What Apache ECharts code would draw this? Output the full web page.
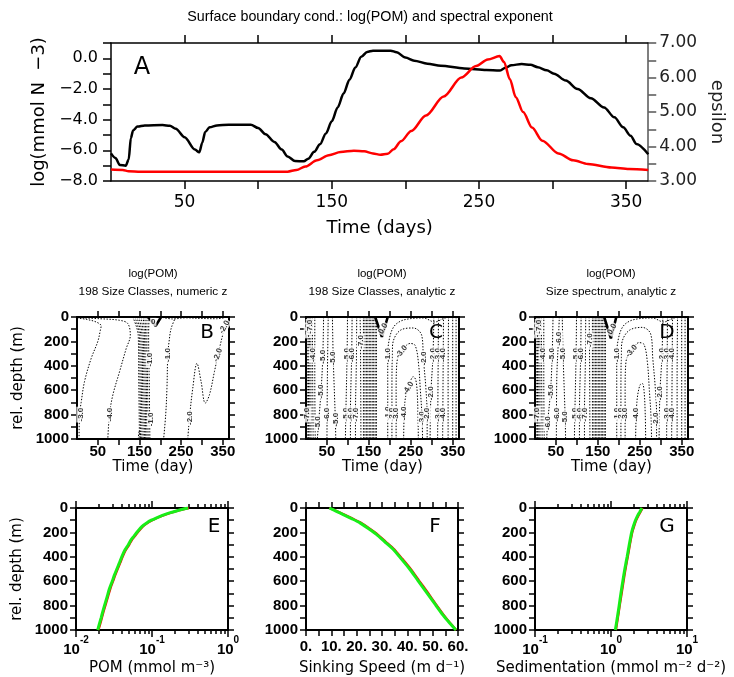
<!DOCTYPE html>
<html><head><meta charset="utf-8">
<script src="https://cdn.jsdelivr.net/npm/echarts@6/dist/echarts.min.js"></script>
<style>html,body{margin:0;padding:0;background:#fff}#c{width:734px;height:677px}</style>
</head><body><div id="c"></div>
<script>
// ---------- Panel A: surface boundary conditions ----------
const blackDays = [0,3,6,10,12,13.5,15,18,23,35,40,44,50,57,60,62,64,67,72,80,95,100,105,111,116,120,125,131,134,138,142,146,150,154,158,162,166,170,174,178,190,194,200,206,215,224,240,255,264,268,272,279,285,290,296,301,309,317,326,335,342,348,353,357,365];
const blackLogPOM = [-6.2,-6.5,-6.95,-7.0,-6.6,-5.2,-4.7,-4.45,-4.38,-4.35,-4.4,-4.6,-5.15,-5.95,-6.13,-5.5,-4.8,-4.5,-4.38,-4.33,-4.33,-4.55,-4.95,-5.45,-5.95,-6.4,-6.7,-6.72,-6.55,-6.1,-5.6,-4.9,-4.1,-3.2,-2.3,-1.4,-0.6,0.1,0.42,0.5,0.5,0.4,0.05,-0.15,-0.35,-0.48,-0.66,-0.76,-0.8,-0.62,-0.45,-0.37,-0.42,-0.58,-0.78,-1.0,-1.45,-2.0,-2.6,-3.2,-3.85,-4.5,-5.05,-5.58,-6.25];
const redDays = [0,8,12,20,120,126,132,140,148,156,165,172,178,183,188,192,197,204,214,226,238,248,256,264,267,271,275,280,286,293,304,314,324,340,352,365];
const redEpsilon = [3.33,3.32,3.28,3.27,3.27,3.32,3.42,3.6,3.75,3.84,3.88,3.86,3.8,3.76,3.79,3.92,4.15,4.45,4.9,5.45,6.0,6.33,6.52,6.62,6.45,5.95,5.43,5.0,4.55,4.17,3.8,3.6,3.49,3.39,3.35,3.32];
const timeTicks = [50,100,150,200,250,300,350];
const timeLabels = [50,150,250,350];
const logPomTicks = [-8,-7,-6,-5,-4,-3,-2,-1,0,1];
const logPomLabels = [-8,-6,-4,-2,0];
const epsTicks = [3,3.5,4,4.5,5,5.5,6,6.5,7];
const epsLabels = [3,4,5,6,7];
const depthTicks = [0,100,200,300,400,500,600,700,800,900,1000];
const depthLabels = [0,200,400,600,800,1000];

// ---------- Panel B: 198 size classes, numeric z ----------
const bLines = [
  [[0,8],[22,19],[46,41],[58,73],[56,110],[50,200],[34,340],[18,530],[10,700],[6,800],[5,1000]],
  [[6,6],[54,14],[102,27],[122,54],[128,150],[118,260],[102,450],[86,640],[78,800],[74,1000]],
  [[147,1000],[150,930],[154,1000]],
  [[237,0],[226,95],[221,204],[218,312],[216,584],[213,800],[208,1000]],
  [[205,3],[230,16],[260,7],[300,12],[335,14],[352,8]],
  [[266,1000],[270,829],[278,584],[288,380],[298,530],[308,706],[318,638],[330,448],[342,258],[354,95],[360,40],[365,20]]
];
const bBandTop = [134,139,144,149,154,159,163,168,173];
const bBandMid = [147,150,153,156,159,162,165,168,172];
const bBandBot = [150,153,156,159,162,165,168,171,175];
const bV = [[170,0],[189,73],[202,0]];
const bLabels = [[8,800,'-3.0',90],[78,800,'-4.0',90],[175,350,'-1.0',90],[178,840,'-1.0',90],[218,312,'-1.0',90],
  [270,829,'-2.0',90],[338,312,'-2.0',70],[354,82,'-2.0',60],[183,40,'0',0]];

// ---------- Panel C: 198 size classes, analytic z ----------
const cLines = [
  [[2,0],[3,500],[3,1000]],[[5,0],[6,500],[6,1000]],[[8,0],[9,500],[9,1000]],[[11,0],[12,500],[12,1000]],
  [[15,0],[16,500],[17,1000]],[[21,0],[21,500],[22,1000]],
  [[42,0],[40,330],[36,600],[30,870],[27,1000]],
  [[53,0],[51,500],[50,1000]],
  [[63,0],[65,340],[70,842],[71,1000]],
  [[99,0],[98,312],[95,800],[94,1000]],
  [[110,0],[109,312],[106,800],[106,1000]],
  [[121,0],[120,400],[118,800],[118,1000]],
  [[129,0],[130,204],[131,1000]],
  [[195,1000],[195,600],[195,312],[199,177],[209,82],[225,35],[248,14],[280,8],[307,41],[327,14],[339,0]],
  [[205,1000],[205,600],[206,280],[208,200],[225,109],[256,90],[276,150],[280,340],[286,584],[289,800],[289,1000]],
  [[215,1000],[215,600],[217,367],[228,285],[248,217],[260,231],[268,367],[273,611],[277,829],[278,1000]],
  [[233,1000],[236,693],[244,584],[256,489],[262,516],[266,666],[268,1000]],
  [[305,0],[303,312],[298,625],[296,1000]],
  [[316,0],[315,500],[314,1000]],[[328,0],[327,500],[326,1000]],
  [[340,0],[339,500],[339,1000]],[[350,0],[350,1000]],[[358,0],[358,1000]]
];
const cBandDays = [137,140.5,144,147.5,151,154.5,158,161.5,165,168];
const cV = [[165,0],[181,163],[195,0]];
const cLabels = [[4,110,'-7.0',90],[9,80,'-7.0',90],[16,312,'-4.0',90],[40,326,'-5.0',90],[36,611,'-5.0',90],[50,800,'-6.0',90],
  [3,800,'-7.0',90],[29,870,'-5.0',90],[65,340,'-5.0',90],[70,842,'-5.0',90],[98,312,'-5.0',90],[109,312,'-6.0',90],
  [95,800,'-5.0',90],[106,800,'-6.0',90],[118,800,'-7.0',90],[130,204,'-7.0',90],[184,95,'0.0',60],[195,312,'-1.0',90],
  [195,790,'-1.0',90],[205,800,'-2.0',90],[215,800,'-3.0',90],[234,790,'-4.0',90],[228,285,'-3.0',50],[280,340,'-2.0',90],
  [244,584,'-4.0',60],[303,312,'-2.0',90],[298,625,'-2.0',90],[315,312,'-3.0',90],[327,312,'-4.0',90],[277,829,'-3.0',90],
  [289,800,'-2.0',90],[315,800,'-3.0',90],[327,800,'-4.0',90]];

// ---------- Panel D: size spectrum, analytic z ----------
const dLines = [
  [[2,0],[3,500],[3,1000]],[[5,0],[6,500],[6,1000]],[[8,0],[9,500],[9,1000]],[[11,0],[12,500],[12,1000]],
  [[15,0],[16,500],[17,1000]],[[21,0],[21,500],[22,1000]],
  [[43,0],[41,312],[37,611],[30,870],[28,1000]],
  [[58,0],[56,177],[52,500],[51,1000]],
  [[65,0],[67,312],[72,829],[73,1000]],
  [[99,0],[98,312],[95,800],[94,1000]],
  [[110,0],[109,312],[106,800],[106,1000]],
  [[121,0],[120,400],[118,800],[118,1000]],
  [[129,0],[130,204],[131,1000]],
  [[195,1000],[195,600],[195,312],[199,177],[209,82],[225,35],[248,14],[280,8],[307,41],[327,14],[339,0]],
  [[205,1000],[205,600],[206,280],[208,200],[225,109],[256,85],[276,140],[281,340],[287,584],[290,800],[290,1000]],
  [[215,1000],[215,600],[217,367],[230,280],[248,210],[260,225],[268,367],[273,611],[277,829],[278,1000]],
  [[240,1000],[243,700],[250,560],[256,545],[260,600],[263,800],[264,1000]],
  [[305,0],[303,312],[298,625],[296,1000]],
  [[316,0],[315,500],[314,1000]],[[328,0],[327,500],[326,1000]],
  [[340,0],[339,500],[339,1000]],[[350,0],[350,1000]],[[358,0],[358,1000]]
];
const dBandDays = [137,140.5,144,147.5,151,154.5,158,161.5,165,168];
const dV = [[165,0],[181,175],[194,0]];
const dLabels = [[4,110,'-7.0',90],[9,80,'-7.0',90],[18,312,'-4.0',90],[41,312,'-5.0',90],[37,611,'-5.0',90],[52,800,'-6.0',90],
  [4,800,'-7.0',90],[30,870,'-6.0',90],[57,177,'-6.0',90],[67,312,'-5.0',90],[72,829,'-5.0',90],[98,312,'-5.0',90],
  [109,312,'-6.0',90],[95,800,'-5.0',90],[106,800,'-6.0',90],[118,800,'-7.0',90],[130,190,'-7.0',90],[184,100,'0.0',60],
  [195,312,'-1.0',90],[195,800,'-1.0',90],[205,800,'-2.0',90],[215,800,'-3.0',90],[241,800,'-4.0',90],[230,280,'-3.0',50],
  [303,312,'-2.0',90],[298,625,'-2.0',90],[315,312,'-3.0',90],[327,312,'-4.0',90],[288,840,'-2.0',90],
  [315,800,'-3.0',90],[327,800,'-4.0',90]];

// ---------- Panels E, F, G: depth profiles ----------
const profDepthE = [0,20,40,60,80,100,120,150,190,230,260,300,350,400,450,500,550,600,660,730,800,850,900,950,1000];
const pomGreen = [0.30,0.22,0.17,0.137,0.115,0.098,0.086,0.074,0.065,0.058,0.053,0.049,0.0435,0.040,0.0372,0.0345,0.032,0.030,0.0276,0.0256,0.0237,0.0225,0.0214,0.0203,0.0193];
const pomRed = [0.305,0.226,0.175,0.141,0.118,0.101,0.088,0.076,0.0667,0.0595,0.0544,0.0502,0.0446,0.041,0.0381,0.0353,0.0328,0.0307,0.0283,0.0262,0.0243,0.023,0.0219,0.0208,0.0197];
const profDepthF = [0,27,54,87,122,167,216,275,338,417,500,595,689,784,878,940,1000];
const speedGreen = [9.2,12,14.7,18,21.3,24.5,27.8,31,34.4,37.6,40.9,44.2,47.5,50.8,54.1,56.6,59.2];
const speedRed = [9.2,12.3,15.1,18.4,21.7,24.9,28.2,31.4,34.8,38.0,41.3,44.6,47.9,51.1,54.4,56.8,59.3];
const profDepthG = [0,30,60,100,150,200,300,400,500,600,700,800,900,1000];
const sedGreen = [2.55,2.4,2.25,2.1,1.97,1.87,1.74,1.63,1.52,1.43,1.35,1.28,1.21,1.14];
const sedRed = [2.6,2.45,2.3,2.14,2.01,1.9,1.77,1.66,1.55,1.46,1.38,1.3,1.23,1.16];
const pomMajor = [0.01,0.1,1];
const pomMinor = [0.02,0.03,0.04,0.05,0.06,0.07,0.08,0.09,0.2,0.3,0.4,0.5,0.6,0.7,0.8,0.9];
const speedTicks = [0,5,10,15,20,25,30,35,40,45,50,55,60];
const speedLabels = [0,10,20,30,40,50,60];
const sedMajor = [0.1,1,10];
const sedMinor = [0.2,0.3,0.4,0.5,0.6,0.7,0.8,0.9,2,3,4,5,6,7,8,9];

// ---------- build ----------
const BOLD = {fontFamily:'Liberation Sans', fontWeight:'bold', fontSize:15, color:'#000'};
const THIN = {fontFamily:'DejaVu Sans', fontSize:16, color:'#000'};
const NAME = {fontFamily:'DejaVu Sans', fontSize:15, color:'#000'};
const zip = (a,b) => a.map((v,i)=>[v,b[i]]);

function ax(o){
  const col = o.color || '#000';
  const c = {gridIndex:o.g, type:o.type||'value', position:o.pos, min:o.min, max:o.max, inverse:!!o.inverse,
    splitLine:{show:false},
    axisLine:{show:!o.noLine, onZero:false, lineStyle:{color:col, width:o.lw||2}},
    axisTick:{show:true, inside:false, length:o.tickLen||6, lineStyle:{color:col, width:o.tw||1.5}},
    axisLabel:{show:!!o.labels}};
  if (o.type==='log') c.logBase = 10;
  if (o.ticks) c.axisTick.customValues = o.ticks;
  if (o.labels) {
    Object.assign(c.axisLabel, o.ls || BOLD, {customValues:o.labels, margin:o.margin||6,
      formatter: o.fmt || (v => String(v))});
    if (o.rich) c.axisLabel.rich = o.rich;
  }
  if (o.name) {
    c.name = o.name; c.nameLocation = 'middle'; c.nameGap = o.nameGap;
    c.nameTextStyle = Object.assign({}, o.ns || NAME);
    if (o.nameRotate !== undefined) c.nameRotate = o.nameRotate;
  }
  return c;
}
const xAxes = [], yAxes = [], series = [];
const addX = o => (xAxes.push(ax(o)), xAxes.length-1);
const addY = o => (yAxes.push(ax(o)), yAxes.length-1);
const minus = v => (v<0?'\u2212':'') + Math.abs(v).toFixed(1);

const grids = [
  {left:111, top:43, width:546, height:138},
  {left:77, top:317, width:152, height:122},
  {left:306, top:317, width:153, height:122},
  {left:535, top:317, width:153, height:122},
  {left:76, top:508, width:152, height:124},
  {left:306, top:508, width:152, height:124},
  {left:535, top:508, width:152, height:124}
];

// Panel A axes
const axA = addX({g:0, pos:'bottom', min:0, max:365, ticks:timeTicks, labels:timeLabels, ls:Object.assign({},THIN,{fontSize:17}),
  margin:13, tickLen:8, lw:1.5, name:'Time (days)', nameGap:38, ns:Object.assign({},THIN,{fontSize:18})});
addX({g:0, pos:'top', min:0, max:365, ticks:timeTicks, tickLen:8, lw:1.5});
const ayA = addY({g:0, pos:'left', min:-8, max:1, ticks:logPomTicks, labels:logPomLabels, fmt:minus, ls:THIN, margin:13,
  tickLen:8, lw:1.5, name:'log(mmol N  \u22123)', nameGap:62, nameRotate:90, ns:Object.assign({},THIN,{fontSize:18})});
const ayA2 = addY({g:0, pos:'right', min:3, max:7, ticks:epsTicks, labels:epsLabels, fmt:v=>v.toFixed(2),
  ls:Object.assign({},THIN,{fontSize:17, color:'#222'}), margin:11, tickLen:8, lw:1.5, color:'#555',
  name:'epsilon', nameGap:58, nameRotate:-90, ns:Object.assign({},THIN,{fontSize:18, color:'#222'})});
series.push({type:'line', xAxisIndex:axA, yAxisIndex:ayA, data:zip(blackDays,blackLogPOM), showSymbol:false, symbol:'none',
  smooth:0.3, smoothMonotone:'x', lineStyle:{color:'#000', width:2.5}, z:3});
series.push({type:'line', xAxisIndex:axA, yAxisIndex:ayA2, data:zip(redDays,redEpsilon), showSymbol:false, symbol:'none',
  smooth:0.3, smoothMonotone:'x', lineStyle:{color:'#ff0000', width:2.5}, z:3});

// contour panels
function contourPanel(g, lines, bandLines, vLine, labels, withName){
  const xi = addX({g, pos:'bottom', min:0, max:365, ticks:timeTicks, labels:timeLabels, margin:5, name:'Time (day)', nameGap:20});
  addX({g, pos:'top', min:0, max:365, ticks:timeTicks});
  const yi = addY(Object.assign({g, pos:'left', min:0, max:1000, inverse:true, ticks:depthTicks, labels:depthLabels, margin:8},
    withName ? {name:'rel. depth (m)', nameGap:51, nameRotate:90} : {}));
  addY({g, pos:'right', min:0, max:1000, inverse:true, ticks:depthTicks});
  lines.concat(bandLines).forEach(pts => series.push({type:'line', xAxisIndex:xi, yAxisIndex:yi, data:pts, showSymbol:false,
    symbol:'none', smooth:0.35, silent:true, lineStyle:{color:'#000', width:1, type:[1.4,1.6]}, z:2}));
  series.push({type:'line', xAxisIndex:xi, yAxisIndex:yi, data:vLine, showSymbol:false, symbol:'none', silent:true,
    lineStyle:{color:'#000', width:2.6}, z:3});
  series.push({type:'scatter', xAxisIndex:xi, yAxisIndex:yi, symbolSize:1, silent:true, itemStyle:{color:'rgba(0,0,0,0)'}, z:5,
    label:{show:true, position:'inside', fontFamily:'Liberation Sans', fontWeight:'bold', fontSize:8, color:'#000',
      backgroundColor:'#fff', padding:[0,1]},
    data:labels.map(l => ({value:[l[0],l[1]], label:{formatter:l[2], rotate:l[3]}}))});
}
contourPanel(1, bLines, bBandTop.map((t,i)=>[[t,0],[bBandMid[i],150],[(bBandMid[i]+bBandBot[i])/2,550],[bBandBot[i],1000]]), bV, bLabels, true);
contourPanel(2, cLines, cBandDays.map(d=>[[d,0],[d,1000]]), cV, cLabels, false);
contourPanel(3, dLines, dBandDays.map(d=>[[d,0],[d,1000]]), dV, dLabels, false);

// profile panels
const supRich = {b:{fontFamily:'Liberation Sans', fontWeight:'bold', fontSize:15, lineHeight:22, verticalAlign:'bottom'},
                 s:{fontFamily:'Liberation Sans', fontWeight:'bold', fontSize:10, lineHeight:10, verticalAlign:'top'}};
const logFmt = v => '{b|10}{s|' + Math.round(Math.log10(v)) + '}';
function profAxes(g, xcfg, withName){
  let xi;
  if (xcfg.log) {
    xi = addX({g, type:'log', pos:'bottom', min:xcfg.min, max:xcfg.max, ticks:xcfg.major, labels:xcfg.major, fmt:logFmt,
      rich:supRich, margin:5, tickLen:7, name:xcfg.name, nameGap:31});
    addX({g, type:'log', pos:'bottom', min:xcfg.min, max:xcfg.max, ticks:xcfg.minor, noLine:true, tickLen:4});
    addX({g, type:'log', pos:'top', min:xcfg.min, max:xcfg.max, ticks:xcfg.major, tickLen:7});
    addX({g, type:'log', pos:'top', min:xcfg.min, max:xcfg.max, ticks:xcfg.minor, noLine:true, tickLen:4});
  } else {
    xi = addX({g, pos:'bottom', min:xcfg.min, max:xcfg.max, ticks:xcfg.ticks, labels:xcfg.labels, fmt:v=>v+'.',
      margin:9, name:xcfg.name, nameGap:31});
    addX({g, pos:'top', min:xcfg.min, max:xcfg.max, ticks:xcfg.ticks});
  }
  const yi = addY(Object.assign({g, pos:'left', min:0, max:1000, inverse:true, ticks:depthTicks, labels:depthLabels, margin:8},
    withName ? {name:'rel. depth (m)', nameGap:51, nameRotate:90} : {}));
  addY({g, pos:'right', min:0, max:1000, inverse:true, ticks:depthTicks});
  return [xi, yi];
}
function profSeries(xi, yi, red, green, depth){
  series.push({type:'line', xAxisIndex:xi, yAxisIndex:yi, data:zip(red,depth), showSymbol:false, symbol:'none', smooth:0.2,
    lineStyle:{color:'#ff0000', width:2.4}, z:3});
  series.push({type:'line', xAxisIndex:xi, yAxisIndex:yi, data:zip(green,depth), showSymbol:false, symbol:'none', smooth:0.2,
    lineStyle:{color:'#18ee18', width:3}, z:4});
}
let e = profAxes(4, {log:true, min:0.01, max:1, major:pomMajor, minor:pomMinor, name:'POM (mmol m\u207B\u00B3)'}, true);
profSeries(e[0], e[1], pomRed, pomGreen, profDepthE);
let f = profAxes(5, {log:false, min:0, max:60, ticks:speedTicks, labels:speedLabels, name:'Sinking Speed (m d\u207B\u00B9)'}, false);
profSeries(f[0], f[1], speedRed, speedGreen, profDepthF);
let gg = profAxes(6, {log:true, min:0.1, max:10, major:sedMajor, minor:sedMinor, name:'Sedimentation (mmol m\u207B\u00B2 d\u207B\u00B2)'}, false);
profSeries(gg[0], gg[1], sedRed, sedGreen, profDepthG);

// texts
const T = (text, x, y, font) => ({type:'text', x, y, silent:true, z:10,
  style:{text, font, fill:'#000', textAlign:'center', textVerticalAlign:'middle', verticalAlign:'middle', align:'center'}});
const graphic = [
  T('Surface boundary cond.: log(POM) and spectral exponent', 370, 17, '14.3px "Liberation Sans"'),
  T('log(POM)', 153, 274, '11.5px "Liberation Sans"'), T('198 Size Classes, numeric z', 153, 292, '11.8px "Liberation Sans"'),
  T('log(POM)', 382, 274, '11.5px "Liberation Sans"'), T('198 Size Classes, analytic z', 382, 292, '11.8px "Liberation Sans"'),
  T('log(POM)', 611, 274, '11.5px "Liberation Sans"'), T('Size spectrum, analytic z', 611, 292, '11.8px "Liberation Sans"'),
  T('A', 142, 68, '24px "DejaVu Sans"'),
  T('B', 207, 333, '20px "DejaVu Sans"'), T('C', 436, 333, '20px "DejaVu Sans"'), T('D', 667, 333, '20px "DejaVu Sans"'),
  T('E', 214, 527, '20px "DejaVu Sans"'), T('F', 435, 527, '20px "DejaVu Sans"'), T('G', 667, 527, '20px "DejaVu Sans"')
];

const chart = echarts.init(document.getElementById('c'));
chart.setOption({backgroundColor:'#fff', animation:false, grid:grids, xAxis:xAxes, yAxis:yAxes, series, graphic});
</script>
</body></html>
